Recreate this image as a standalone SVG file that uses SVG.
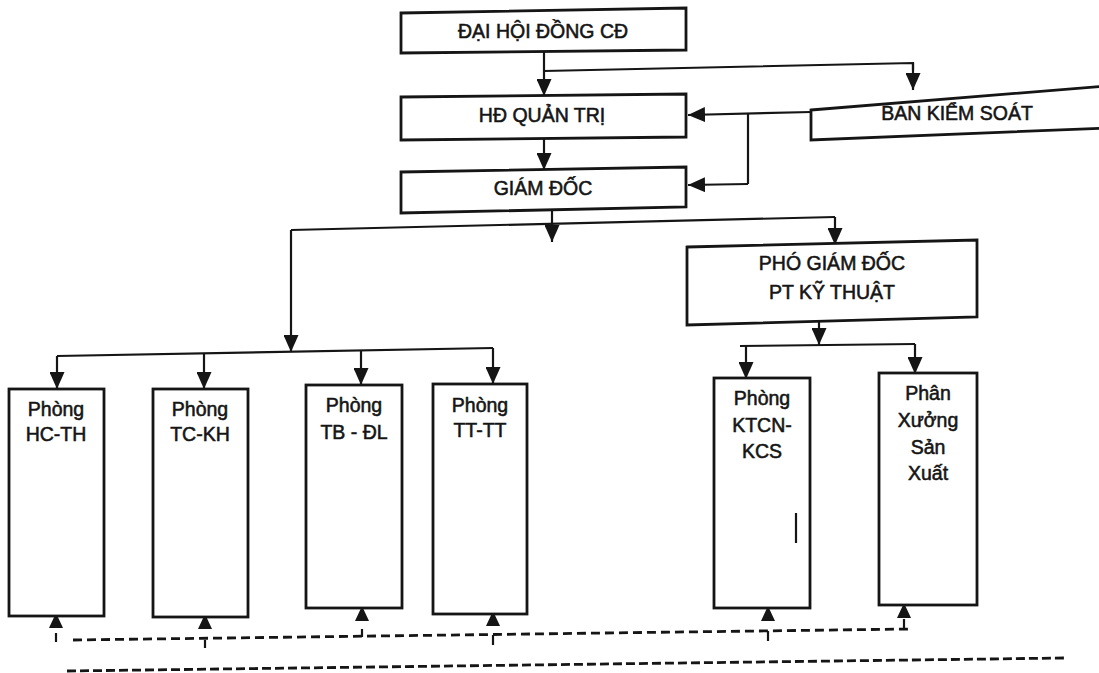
<svg xmlns="http://www.w3.org/2000/svg" width="1099" height="673" viewBox="0 0 1099 673">
<defs>
<marker id="ah" markerUnits="userSpaceOnUse" markerWidth="17" markerHeight="15" refX="17" refY="7.5" orient="auto">
<path d="M0,0 L17,7.5 L0,15 z" fill="#151515"/>
</marker>
<style>
.box{fill:#fff;stroke:#151515;stroke-width:2.8;stroke-linejoin:miter}
.t{font-family:"Liberation Sans",Arial,sans-serif;font-size:19.5px;fill:#151515;stroke:#151515;stroke-width:0.55;text-anchor:middle}
.ln{fill:none;stroke:#151515;stroke-width:2.2}
.ar{fill:none;stroke:#151515;stroke-width:2.2;marker-end:url(#ah)}
.ds{fill:none;stroke:#151515;stroke-width:2.8;stroke-dasharray:9 5}
.ds2{fill:none;stroke:#151515;stroke-width:2.8;stroke-dasharray:9 4}
.tri{fill:#151515}
</style>
</defs>
<rect width="1099" height="673" fill="#fff"/>
<g id="connectors">
<path class="ar" d="M544,51 L544,96"/>
<path class="ln" d="M544,71 L913,63 L913,70"/>
<path class="ar" d="M913,63 L913,90"/>
<path class="ar" d="M811,112 L688,115"/>
<path class="ln" d="M748,113 L748,184"/>
<path class="ar" d="M748,184 L688,185"/>
<path class="ar" d="M544,139 L544,170"/>
<path class="ar" d="M552,209 L552,242"/>
<path class="ln" d="M291,230 L835,217"/>
<path class="ar" d="M835,217 L835,245"/>
<path class="ar" d="M291,230 L291,352"/>
<path class="ln" d="M57,356 L493,348"/>
<path class="ar" d="M57,356 L57,389"/>
<path class="ar" d="M204,353 L204,389"/>
<path class="ar" d="M361,351 L361,385"/>
<path class="ar" d="M493,348 L493,384"/>
<path class="ar" d="M819,320 L819,345"/>
<path class="ln" d="M740,346 L915,344"/>
<path class="ar" d="M746,346 L746,379"/>
<path class="ar" d="M915,344 L915,374"/>
<path class="tri" d="M56,613 L63,628 L49,628 z"/>
<path class="tri" d="M205,614 L212,629 L198,629 z"/>
<path class="tri" d="M362,606 L369,621 L355,621 z"/>
<path class="tri" d="M493,611 L500,626 L486,626 z"/>
<path class="tri" d="M768,606 L775,621 L761,621 z"/>
<path class="tri" d="M904,603 L911,618 L897,618 z"/>
<path class="ds" d="M73,640 L910,629"/>
<path class="ln" d="M56,633 L56,642"/>
<path class="ln" d="M205,640 L205,648"/>
<path class="ln" d="M362,637 L362,629"/>
<path class="ln" d="M493,635 L493,645"/>
<path class="ln" d="M768,631 L768,641"/>
<path class="ln" d="M904,629 L904,619"/>
<path class="ds2" d="M67,671 L1065,658"/>
</g>
<g id="dai-hoi">
<polygon class="box" points="401,13 686,8 686,50 401,53"/>
<text class="t" x="543" y="38">ĐẠI HỘI ĐỒNG CĐ</text>
</g>
<g id="hd-quan-tri">
<polygon class="box" points="401,97 686,94 686,137 401,140"/>
<text class="t" x="542" y="122">HĐ QUẢN TRỊ</text>
</g>
<g id="ban-kiem-soat">
<polygon class="box" points="811,110 1106,86 1106,128 811,140"/>
<text class="t" x="957" y="120">BAN KIỂM SOÁT</text>
</g>
<g id="giam-doc">
<polygon class="box" points="401,172 686,167 686,207 401,213"/>
<text class="t" x="543" y="195">GIÁM ĐỐC</text>
</g>
<g id="pho-giam-doc">
<polygon class="box" points="687,247 977,240 977,317 687,325"/>
<text class="t" x="832" y="270">PHÓ GIÁM ĐỐC</text>
<text class="t" x="832" y="299">PT KỸ THUẬT</text>
</g>
<g id="hc-th">
<rect class="box" x="9" y="389" width="95" height="227"/>
<text class="t" x="56" y="416">Phòng</text>
<text class="t" x="56" y="441">HC-TH</text>
</g>
<g id="tc-kh">
<rect class="box" x="153" y="389" width="95" height="228"/>
<text class="t" x="200" y="416">Phòng</text>
<text class="t" x="200" y="441">TC-KH</text>
</g>
<g id="tb-dl">
<rect class="box" x="306" y="385" width="96" height="223"/>
<text class="t" x="354" y="412">Phòng</text>
<text class="t" x="354" y="439">TB - ĐL</text>
</g>
<g id="tt-tt">
<rect class="box" x="433" y="384" width="94" height="230"/>
<text class="t" x="480" y="412">Phòng</text>
<text class="t" x="480" y="437">TT-TT</text>
</g>
<g id="ktcn-kcs">
<rect class="box" x="714" y="378" width="96" height="230"/>
<text class="t" x="762" y="405">Phòng</text>
<text class="t" x="762" y="432">KTCN-</text>
<text class="t" x="762" y="458">KCS</text>
<path class="ln" d="M796,513 L796,543"/>
</g>
<g id="phan-xuong">
<rect class="box" x="879" y="373" width="98" height="232"/>
<text class="t" x="928" y="400">Phân</text>
<text class="t" x="928" y="427">Xưởng</text>
<text class="t" x="928" y="454">Sản</text>
<text class="t" x="928" y="480">Xuất</text>
</g>
</svg>
